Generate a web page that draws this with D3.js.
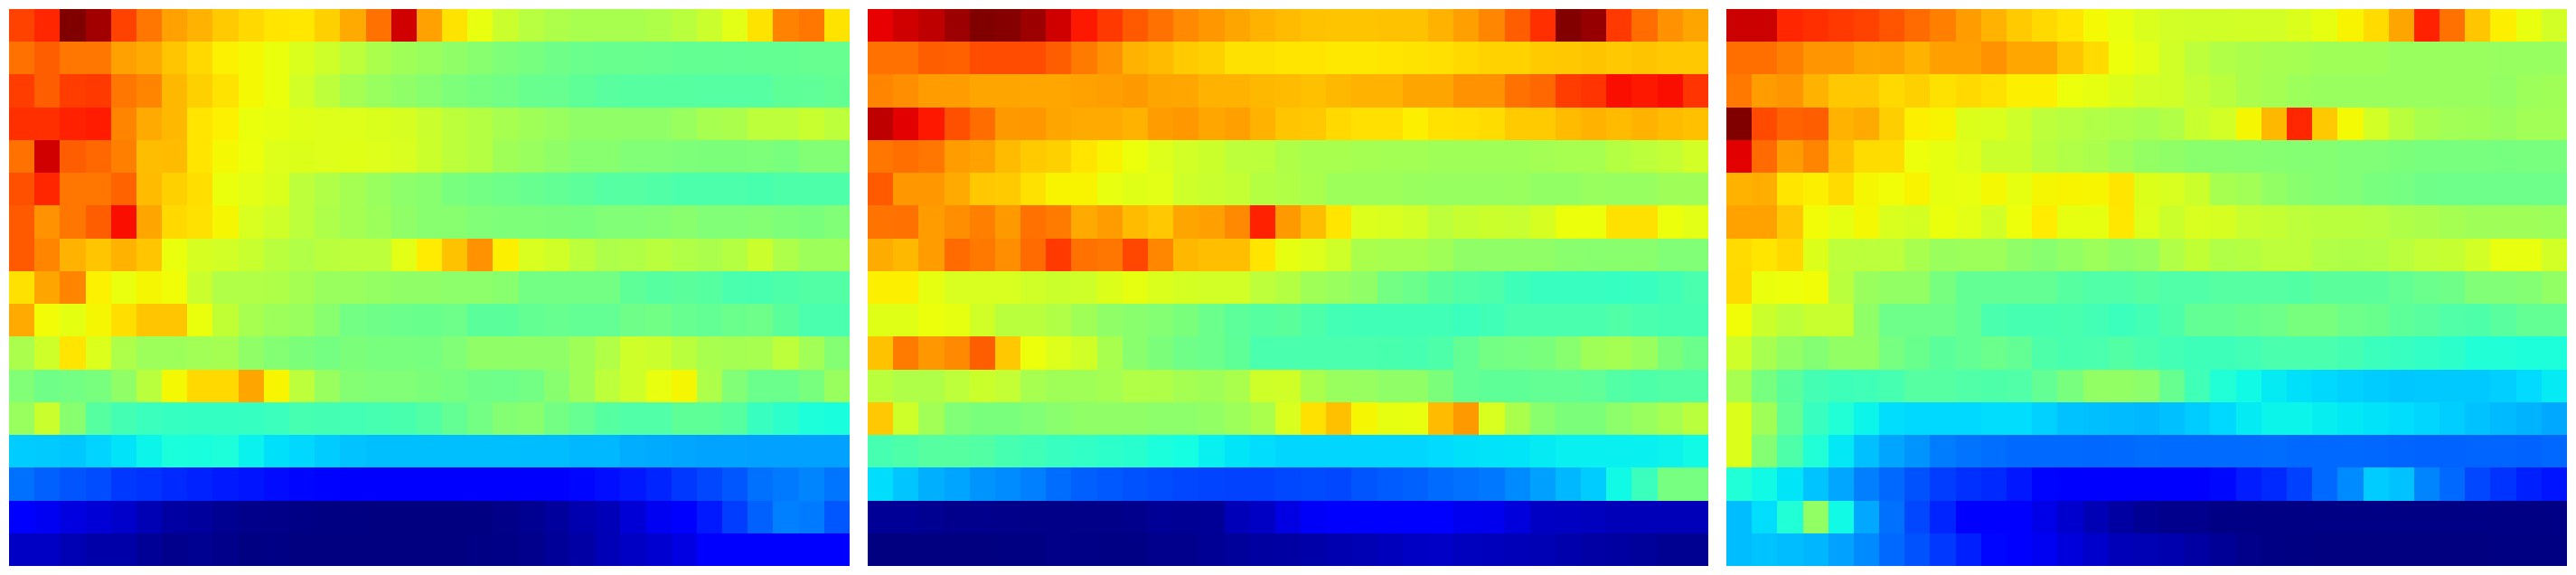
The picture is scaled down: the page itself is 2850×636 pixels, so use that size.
<!DOCTYPE html>
<html><head><meta charset="utf-8">
<script src="https://cdn.jsdelivr.net/npm/d3@7"></script>
<style>html,body{margin:0;padding:0;background:#fff}svg{display:block}</style>
</head><body><div id="chart"></div>
<script>
const panelA = [
[.84,.87,1,.97,.84,.785,.74,.72,.695,.68,.668,.665,.69,.73,.79,.93,.74,.67,.632,.595,.572,.56,.555,.555,.555,.562,.575,.595,.625,.67,.772,.785,.67],
[.79,.81,.785,.785,.74,.73,.7,.68,.655,.647,.635,.615,.6,.58,.558,.545,.535,.525,.515,.503,.495,.485,.48,.477,.477,.475,.472,.472,.47,.472,.472,.475,.475],
[.845,.81,.845,.85,.785,.77,.715,.69,.67,.647,.635,.605,.58,.55,.535,.525,.515,.503,.495,.487,.477,.475,.465,.458,.455,.455,.455,.453,.453,.453,.465,.467,.472],
[.86,.86,.875,.88,.77,.73,.715,.668,.655,.635,.63,.622,.62,.62,.615,.61,.595,.578,.57,.553,.545,.535,.525,.525,.525,.525,.535,.553,.558,.58,.58,.593,.58],
[.79,.93,.81,.8,.775,.71,.712,.668,.647,.637,.62,.618,.62,.622,.62,.612,.597,.578,.57,.545,.535,.525,.515,.515,.505,.505,.503,.5,.5,.503,.497,.508,.508],
[.825,.87,.785,.785,.805,.712,.69,.675,.635,.625,.615,.58,.565,.55,.535,.52,.515,.497,.49,.482,.475,.47,.463,.453,.453,.448,.442,.442,.442,.438,.445,.445,.445],
[.815,.755,.785,.81,.895,.735,.68,.672,.648,.612,.6,.58,.56,.55,.54,.525,.515,.515,.505,.503,.503,.5,.498,.505,.507,.51,.517,.505,.505,.51,.503,.498,.505],
[.815,.77,.72,.7,.72,.7,.635,.61,.605,.593,.575,.565,.575,.58,.58,.625,.66,.705,.755,.657,.612,.603,.578,.56,.565,.575,.565,.558,.57,.595,.56,.54,.54],
[.672,.735,.77,.655,.633,.648,.642,.595,.565,.565,.562,.55,.535,.535,.53,.525,.525,.52,.52,.515,.49,.49,.49,.49,.465,.455,.46,.455,.44,.437,.445,.45,.45],
[.73,.643,.628,.648,.675,.7,.7,.635,.585,.553,.54,.535,.515,.49,.485,.48,.478,.482,.46,.46,.472,.475,.47,.47,.485,.487,.475,.47,.48,.483,.46,.44,.44],
[.558,.6,.668,.617,.56,.54,.54,.547,.55,.525,.51,.5,.492,.5,.497,.497,.495,.505,.525,.525,.525,.525,.545,.565,.6,.595,.575,.555,.55,.553,.58,.547,.51],
[.505,.485,.49,.497,.525,.575,.647,.68,.68,.735,.65,.58,.535,.51,.505,.505,.5,.495,.485,.483,.49,.515,.545,.58,.6,.632,.648,.56,.505,.48,.48,.497,.535],
[.535,.595,.515,.455,.433,.42,.415,.413,.413,.415,.42,.435,.433,.43,.435,.438,.45,.47,.49,.51,.515,.49,.473,.455,.447,.447,.465,.465,.455,.418,.405,.385,.38],
[.325,.323,.32,.333,.348,.365,.382,.38,.385,.362,.345,.337,.325,.316,.312,.312,.312,.312,.312,.312,.31,.31,.305,.305,.295,.293,.288,.285,.285,.283,.283,.283,.283],
[.235,.22,.208,.2,.18,.175,.165,.158,.15,.145,.136,.13,.127,.12,.12,.12,.12,.12,.12,.12,.122,.125,.13,.138,.148,.16,.18,.195,.21,.235,.245,.255,.24],
[.112,.1,.083,.075,.065,.045,.03,.025,.015,.01,.008,.005,.002,.002,0,0,0,0,.002,.008,.015,.025,.04,.05,.075,.1,.112,.15,.185,.22,.25,.245,.21],
[.06,.06,.045,.035,.035,.02,.012,.015,.01,.002,.005,0,0,0,0,0,0,0,.004,.006,.012,.022,.032,.048,.06,.07,.085,.11,.112,.115,.115,.115,.115]
];
const panelB = [
[.91,.93,.945,.975,1,.995,.975,.93,.885,.85,.815,.79,.765,.75,.735,.72,.712,.705,.702,.702,.705,.705,.722,.742,.768,.81,.86,.998,.98,.85,.795,.755,.735],
[.79,.79,.81,.808,.83,.83,.83,.81,.78,.755,.722,.712,.695,.69,.672,.672,.668,.668,.664,.664,.667,.67,.673,.68,.688,.688,.695,.698,.702,.698,.702,.698,.698],
[.77,.76,.745,.745,.735,.735,.733,.733,.738,.743,.748,.735,.733,.722,.722,.715,.712,.707,.715,.722,.722,.735,.735,.755,.755,.79,.8,.845,.855,.895,.885,.895,.855],
[.945,.915,.885,.825,.795,.748,.75,.735,.73,.73,.72,.745,.75,.733,.742,.72,.7,.698,.68,.673,.673,.657,.671,.673,.677,.695,.695,.712,.722,.712,.722,.712,.707],
[.785,.792,.785,.745,.738,.712,.695,.69,.668,.652,.637,.62,.605,.597,.58,.578,.563,.555,.555,.55,.548,.548,.545,.545,.545,.545,.548,.553,.553,.57,.578,.587,.605],
[.815,.75,.75,.73,.698,.695,.672,.652,.652,.632,.622,.625,.6,.593,.588,.57,.565,.557,.54,.54,.54,.535,.533,.533,.533,.535,.527,.527,.535,.533,.533,.543,.543],
[.787,.79,.745,.76,.775,.748,.79,.78,.73,.745,.712,.698,.735,.742,.765,.875,.748,.71,.668,.617,.612,.605,.58,.59,.597,.592,.61,.637,.637,.672,.672,.637,.625],
[.728,.715,.745,.797,.782,.76,.797,.85,.79,.785,.835,.767,.715,.708,.708,.668,.63,.62,.6,.557,.553,.553,.545,.525,.525,.525,.525,.517,.515,.517,.517,.505,.505],
[.657,.657,.63,.612,.612,.612,.602,.597,.6,.618,.63,.615,.607,.605,.605,.58,.57,.545,.535,.525,.49,.48,.46,.45,.445,.425,.418,.418,.418,.415,.418,.428,.44],
[.622,.622,.637,.63,.602,.575,.575,.565,.545,.525,.517,.51,.498,.48,.463,.455,.46,.445,.43,.428,.428,.428,.428,.422,.428,.44,.44,.44,.44,.447,.44,.435,.435],
[.705,.78,.75,.765,.81,.698,.637,.62,.602,.555,.517,.5,.485,.48,.465,.44,.44,.44,.44,.44,.438,.435,.445,.47,.49,.493,.498,.515,.545,.55,.535,.5,.48],
[.575,.563,.563,.58,.597,.587,.553,.545,.545,.55,.565,.563,.55,.545,.557,.6,.602,.557,.535,.533,.525,.525,.5,.47,.465,.465,.47,.47,.467,.45,.445,.45,.45],
[.698,.6,.547,.505,.498,.498,.505,.517,.525,.525,.525,.52,.52,.528,.54,.557,.612,.672,.707,.648,.63,.632,.712,.748,.612,.557,.517,.5,.5,.52,.535,.553,.575],
[.435,.445,.455,.455,.45,.435,.428,.418,.41,.405,.398,.383,.375,.36,.35,.342,.335,.335,.335,.335,.335,.335,.34,.345,.348,.35,.355,.36,.36,.36,.36,.363,.37],
[.342,.318,.298,.287,.27,.262,.25,.232,.218,.212,.205,.2,.195,.192,.19,.19,.196,.198,.195,.208,.215,.22,.23,.237,.243,.26,.282,.305,.325,.37,.42,.493,.493],
[.02,.02,.015,.012,.012,.01,.008,.008,.008,.008,.012,.02,.018,.02,.05,.06,.085,.105,.115,.12,.12,.12,.12,.098,.095,.08,.06,.058,.055,.05,.05,.05,.05],
[0,0,0,0,0,.002,.002,.008,.006,.004,.004,.012,.012,.018,.024,.028,.03,.035,.042,.045,.052,.06,.062,.055,.052,.05,.045,.038,.032,.028,.024,.015,.015]
];
const panelC = [
[.935,.935,.87,.86,.85,.84,.82,.797,.775,.745,.72,.695,.68,.667,.645,.632,.615,.605,.602,.602,.605,.605,.615,.63,.652,.678,.735,.875,.79,.7,.657,.632,.605],
[.792,.792,.775,.752,.752,.735,.738,.722,.742,.742,.755,.733,.733,.7,.678,.638,.625,.602,.58,.565,.558,.553,.55,.545,.545,.545,.535,.535,.535,.535,.533,.533,.533],
[.782,.745,.752,.722,.698,.698,.68,.69,.672,.68,.672,.657,.657,.637,.63,.618,.605,.602,.587,.575,.558,.55,.54,.535,.535,.535,.535,.535,.535,.535,.53,.54,.545],
[1,.832,.805,.81,.722,.73,.692,.657,.652,.618,.615,.6,.58,.572,.565,.56,.555,.565,.593,.605,.648,.715,.87,.697,.645,.605,.575,.555,.547,.545,.537,.547,.547],
[.915,.797,.745,.77,.707,.677,.677,.638,.63,.62,.597,.597,.575,.565,.558,.545,.53,.525,.517,.517,.515,.513,.51,.51,.505,.505,.5,.497,.497,.497,.495,.497,.497],
[.72,.727,.668,.657,.678,.648,.642,.653,.63,.632,.647,.63,.648,.652,.65,.668,.618,.612,.597,.553,.547,.527,.517,.51,.505,.497,.493,.485,.483,.483,.483,.483,.483],
[.738,.738,.698,.643,.63,.647,.613,.607,.635,.625,.605,.638,.66,.63,.63,.665,.62,.597,.612,.61,.592,.588,.58,.575,.575,.572,.563,.558,.55,.543,.543,.543,.54],
[.678,.668,.68,.618,.58,.578,.578,.555,.537,.54,.54,.525,.515,.528,.54,.527,.533,.565,.585,.565,.57,.58,.58,.565,.563,.565,.575,.587,.59,.605,.632,.632,.605],
[.68,.635,.638,.642,.575,.537,.527,.527,.495,.47,.47,.47,.47,.455,.447,.447,.455,.447,.447,.453,.453,.453,.45,.46,.46,.46,.47,.48,.485,.505,.505,.51,.528],
[.642,.597,.578,.593,.593,.525,.483,.483,.483,.47,.44,.435,.435,.437,.43,.422,.43,.445,.47,.47,.478,.483,.497,.497,.483,.478,.463,.458,.447,.445,.458,.47,.47],
[.6,.553,.527,.51,.527,.528,.493,.478,.46,.47,.48,.47,.445,.437,.44,.45,.44,.43,.425,.425,.43,.44,.44,.44,.433,.422,.417,.41,.405,.39,.39,.385,.385],
[.553,.495,.46,.433,.425,.428,.435,.453,.453,.447,.445,.447,.47,.497,.528,.528,.52,.475,.428,.39,.37,.355,.345,.338,.33,.325,.32,.322,.322,.322,.328,.34,.355],
[.618,.545,.47,.418,.39,.365,.342,.338,.338,.338,.342,.342,.33,.315,.312,.308,.305,.313,.325,.338,.355,.365,.365,.358,.352,.348,.342,.335,.327,.315,.307,.3,.29],
[.618,.51,.445,.39,.352,.313,.287,.27,.247,.238,.233,.228,.228,.228,.226,.228,.232,.23,.23,.23,.23,.232,.228,.228,.228,.226,.224,.222,.222,.224,.224,.222,.226],
[.39,.37,.35,.317,.288,.25,.228,.205,.185,.172,.165,.148,.128,.122,.12,.115,.115,.115,.125,.132,.152,.165,.188,.228,.26,.325,.315,.255,.228,.195,.175,.155,.145],
[.31,.342,.39,.527,.37,.29,.235,.195,.16,.125,.118,.115,.09,.068,.045,.03,.016,.012,.012,.005,.005,.004,.004,.004,.004,.004,.004,.004,.004,.004,.004,.004,.004],
[.31,.315,.31,.303,.283,.26,.228,.205,.18,.155,.13,.118,.1,.08,.065,.05,.045,.04,.03,.02,.01,.004,.002,0,0,0,0,0,0,0,.002,.002,.002]
];
const panels = [panelA, panelB, panelC];

const W = 2850, H = 636;
const svg = d3.select('#chart').append('svg').attr('width', W).attr('height', H);

const channel = (d, r) => d3.scaleLinear().domain(d).range(r).clamp(true);
const red = channel([0, .35, .66, .89, 1], [0, 0, 1, 1, .5]);
const green = channel([0, .125, .375, .64, .91, 1], [0, 0, 1, 1, 0, 0]);
const blue = channel([0, .11, .34, .65, 1], [.5, 1, 1, 0, 0]);
const jet = v => d3.rgb(red(v) * 255, green(v) * 255, blue(v) * 255).formatHex();
const color = d3.scaleSequential(jet).domain([0, 1]);

const panelX = d3.scaleBand().domain(d3.range(panels.length)).range([0, W]).paddingInner(0);
const y = d3.scaleBand().domain(d3.range(panelA.length)).range([10, 626]);

panels.forEach((rows, p) => {
  const left = p === 0 ? 10 : p === 1 ? 960 : 1910;
  const x = d3.scaleBand().domain(d3.range(rows[0].length)).range([left, left + 930]);
  const g = svg.append('g').attr('class', 'panel').attr('shape-rendering', 'crispEdges');
  const cells = rows.flatMap((row, r) => row.map((v, c) => ({r, c, v})));
  g.selectAll('rect').data(cells).join('rect')
    .attr('x', d => Math.round(x(d.c)))
    .attr('y', d => Math.round(y(d.r)))
    .attr('width', d => Math.round(x(d.c) + x.bandwidth()) - Math.round(x(d.c)))
    .attr('height', d => Math.round(y(d.r) + y.bandwidth()) - Math.round(y(d.r)))
    .attr('fill', d => color(d.v));
});
</script></body></html>
